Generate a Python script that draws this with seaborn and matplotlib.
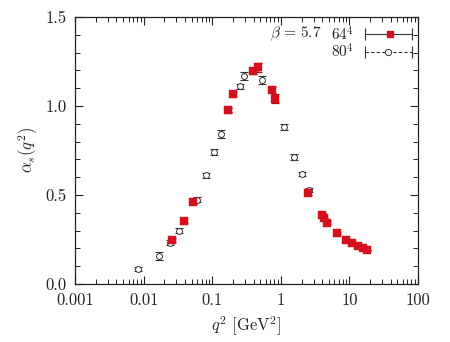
import numpy as np
import pandas as pd
import matplotlib
matplotlib.use("Agg")
import matplotlib.pyplot as plt
import matplotlib.ticker as mticker
import seaborn as sns

# ---- data ----
q2_80 = [0.0083, 0.0168, 0.0243, 0.0328, 0.060, 0.081, 0.106, 0.134, 0.170,
         0.254, 0.291, 0.532, 1.11, 1.56, 2.04, 2.58]
alpha_80 = [0.084, 0.157, 0.230, 0.298, 0.472, 0.612, 0.742, 0.843, 0.975,
            1.112, 1.168, 1.146, 0.882, 0.713, 0.618, 0.528]
err_80 = [0.012, 0.022, 0.014, 0.014, 0.014, 0.014, 0.018, 0.022, 0.014,
          0.014, 0.022, 0.022, 0.018, 0.018, 0.012, 0.012]

q2_64 = [0.026, 0.0388, 0.0525, 0.170, 0.201, 0.394, 0.466, 0.745, 0.823,
         2.49, 3.98, 4.20, 4.71, 6.59, 8.9, 10.9, 13.3, 15.8, 18.1]
alpha_64 = [0.247, 0.354, 0.460, 0.978, 1.067, 1.197, 1.219, 1.090, 1.040,
            0.511, 0.388, 0.370, 0.343, 0.286, 0.247, 0.230, 0.212, 0.200, 0.188]
err_64 = [0.010, 0.010, 0.010, 0.012, 0.012, 0.015, 0.025, 0.015, 0.025,
          0.012, 0.008, 0.008, 0.008, 0.006, 0.006, 0.005, 0.005, 0.005, 0.005]

x_ticks = [0.001, 0.01, 0.1, 1, 10, 100]
x_tick_labels = ["0.001", "0.01", "0.1", "1", "10", "100"]
y_ticks = [0.0, 0.5, 1.0, 1.5]
y_tick_labels = ["0.0", "0.5", "1.0", "1.5"]

df80 = pd.DataFrame({"q2": q2_80, "alpha": alpha_80, "err": err_80})
df64 = pd.DataFrame({"q2": q2_64, "alpha": alpha_64, "err": err_64})

sns.set_style("ticks")
plt.rcParams["font.family"] = ["cmr10", "DejaVu Serif"]
plt.rcParams["mathtext.fontset"] = "cm"
plt.rcParams["axes.formatter.use_mathtext"] = True
plt.rcParams["axes.unicode_minus"] = False

red = "#d4101c"
dark = "#333333"

fig = plt.figure(figsize=(4.5, 3.42), dpi=100)
ax = fig.add_axes([0.167, 0.170, 0.762, 0.780])

# error bars
ax.errorbar(df80["q2"], df80["alpha"], yerr=df80["err"], fmt="none",
            ecolor=dark, elinewidth=0.8, capsize=3.0, capthick=0.8, zorder=2)
ax.errorbar(df64["q2"], df64["alpha"], yerr=df64["err"], fmt="none",
            ecolor="#a0101a", elinewidth=0.9, capsize=3.0, capthick=0.9, zorder=3)

# markers via seaborn
sns.scatterplot(data=df80, x="q2", y="alpha", ax=ax, marker="o", s=18,
                facecolor="white", edgecolor=dark, linewidth=0.7, zorder=4)
sns.scatterplot(data=df64, x="q2", y="alpha", ax=ax, marker="s", s=26,
                color=red, edgecolor=red, linewidth=0.3, zorder=5)

ax.set_xscale("log")
ax.set_xlim(0.001, 100)
ax.set_ylim(0.0, 1.5)
ax.xaxis.set_major_locator(mticker.FixedLocator(x_ticks))
ax.xaxis.set_major_formatter(mticker.FixedFormatter(x_tick_labels))
ax.xaxis.set_minor_locator(mticker.LogLocator(base=10, subs=np.arange(2, 10)))
ax.xaxis.set_minor_formatter(mticker.NullFormatter())
ax.yaxis.set_major_locator(mticker.FixedLocator(y_ticks))
ax.yaxis.set_major_formatter(mticker.FixedFormatter(y_tick_labels))
ax.yaxis.set_minor_locator(mticker.MultipleLocator(0.1))

ax.tick_params(which="both", direction="in", top=True, right=True,
               labelsize=12, colors="#222222")
ax.tick_params(axis="x", which="both", pad=6)
ax.tick_params(axis="y", which="both", pad=6)
ax.tick_params(which="major", length=6, width=0.8)
ax.tick_params(which="minor", length=3.5, width=0.7)
for sp in ax.spines.values():
    sp.set_visible(True)
    sp.set_linewidth(0.9)
    sp.set_color("#222222")

ax.set_xlabel(r"$q^2\ [\mathrm{GeV}^2]$", fontsize=12, labelpad=5)
ax.set_ylabel(r"$\alpha_s(q^2)$", fontsize=12, labelpad=4)

# legend (drawn manually, gnuplot style)
tr = ax.transAxes
ax.text(0.72, 0.936, r"$\beta\,=\,5.7$", transform=tr, ha="right", va="center", fontsize=11)
ax.text(0.813, 0.936, r"$64^4$", transform=tr, ha="right", va="center", fontsize=11)
ax.text(0.813, 0.869, r"$80^4$", transform=tr, ha="right", va="center", fontsize=11)
ax.plot([0.845, 0.983], [0.936, 0.936], transform=tr, color=dark, lw=0.8,
        clip_on=False)
ax.plot([0.845, 0.983], [0.936, 0.936], transform=tr, ls="none", marker="|",
        ms=8, color=dark, mew=0.8, clip_on=False)
ax.plot([0.918], [0.936], transform=tr, marker="s", ms=5, color=red, ls="none")
ax.plot([0.845, 0.983], [0.869, 0.869], transform=tr, color=dark, lw=0.8,
        ls=(0, (3, 2)), clip_on=False)
ax.plot([0.845, 0.983], [0.869, 0.869], transform=tr, ls="none", marker="|",
        ms=8, color=dark, mew=0.8, clip_on=False)
ax.plot([0.912], [0.869], transform=tr, marker="o", ms=4.5, mfc="white",
        mec=dark, mew=0.7, ls="none")

fig.savefig("out.png", dpi=100, facecolor="white")
